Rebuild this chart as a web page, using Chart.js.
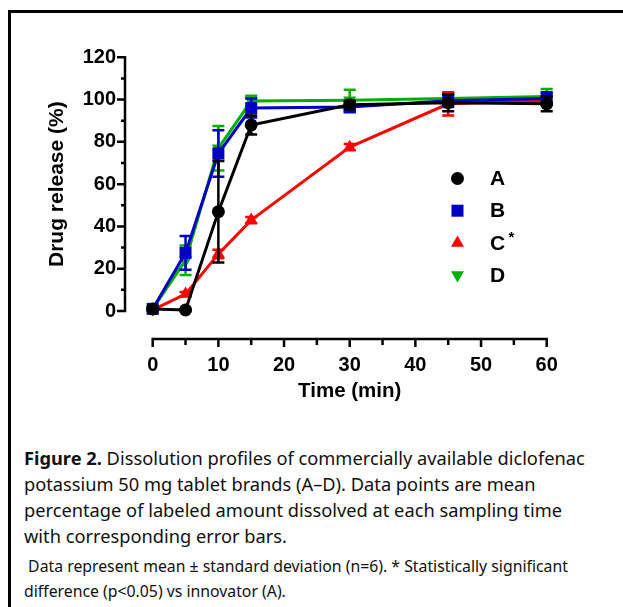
<!DOCTYPE html>
<html>
<head>
<meta charset="utf-8">
<script src="https://cdn.jsdelivr.net/npm/chart.js@4.4.1/dist/chart.umd.min.js"></script>
<style>
    html, body { margin: 0; padding: 0; background: #fff; width: 623px; height: 607px; overflow: hidden; }
    #frame { position: absolute; left: 8px; top: 10px; width: 640px; height: 620px; border-top: 3px solid #000; border-left: 3px solid #000; }
    #wrap { position: absolute; left: 0; top: 0; width: 623px; height: 430px; }
    .caption { position: absolute; left: 24px; top: 445px; font-family: 'Noto Sans', sans-serif; font-size: 18.25px; line-height: 26px; color: #111; white-space: nowrap; }
    .note { position: absolute; left: 24px; top: 554px; font-family: 'Noto Sans', sans-serif; font-size: 15.8px; line-height: 25px; color: #111; white-space: nowrap; }
</style>
</head>
<body>
<div id="frame"></div>
<div id="wrap"><canvas id="chart" width="623" height="430"></canvas></div>
<div class="caption">
    <b>Figure 2.</b> Dissolution profiles of commercially available diclofenac<br>
    potassium 50 mg tablet brands (A–D). Data points are mean<br>
    percentage of labeled amount dissolved at each sampling time<br>
    with corresponding error bars.
</div>
<div class="note">
    &nbsp;Data represent mean ± standard deviation (n=6). * Statistically significant<br>
    difference (p&lt;0.05) vs innovator (A).
</div>
<script>
// sampling times (min)
const TIMES = [0, 5, 10, 15, 30, 45, 60];

// mean % released and SD per brand
const A_MEAN = [1, 0.5, 47, 88, 97.5, 98.5, 98];
const A_SD = [0.5, 0.5, 24, 4.5, 2, 4, 3.5];
const B_MEAN = [1, 27.5, 74.5, 96, 96.5, 99.5, 100.5];
const B_SD = [0.5, 8, 11, 4.5, 2.5, 3, 3];
const C_MEAN = [0.5, 8, 27, 43, 77.5, 98, 99.5];
const C_SD = [0.5, 1, 2, 1.5, 1.5, 5.5, 2];
const D_MEAN = [1, 24, 77, 99.3, 99.7, 100.5, 101.5];
const D_SD = [0.5, 7, 10.5, 2.5, 5, 2.5, 3.5];

const X_TICKS = [0, 5, 10, 15, 20, 25, 30, 35, 40, 45, 50, 55, 60];
const Y_TICKS = [0, 10, 20, 30, 40, 50, 60, 70, 80, 90, 100, 110, 120];

const FONT = "'Liberation Sans', Arial, sans-serif";

const SERIES = [
    { label: 'A', mean: A_MEAN, sd: A_SD, color: '#000000', style: 'circle', radius: 6.5, rotation: 0 },
    { label: 'B', mean: B_MEAN, sd: B_SD, color: '#0000c4', style: 'rect', radius: 8.5, rotation: 0 },
    { label: 'C', mean: C_MEAN, sd: C_SD, color: '#ff0000', style: 'triangle', radius: 7.5, rotation: 0 },
    { label: 'D', mean: D_MEAN, sd: D_SD, color: '#00b000', style: 'triangle', radius: 7.5, rotation: 180 }
];

function drawMarker(ctx, s, x, y) {
    ctx.save();
    ctx.fillStyle = s.color;
    ctx.beginPath();
    if (s.style === 'circle') {
        ctx.arc(x, y, s.radius, 0, Math.PI * 2);
    } else if (s.style === 'rect') {
        const h = s.radius * Math.SQRT1_2;
        ctx.rect(x - h, y - h, 2 * h, 2 * h);
    } else {
        const dir = s.rotation === 180 ? -1 : 1;
        const r = s.radius;
        ctx.moveTo(x, y - dir * r);
        ctx.lineTo(x - r * 0.866, y + dir * r / 2);
        ctx.lineTo(x + r * 0.866, y + dir * r / 2);
        ctx.closePath();
    }
    ctx.fill();
    ctx.restore();
}

const prismPlugin = {
    id: 'prism',
    beforeDatasetDraw(chart, args) {
        const s = SERIES[args.index];
        const { ctx, scales: { x, y } } = chart;
        ctx.save();
        ctx.strokeStyle = s.color;
        ctx.lineWidth = 2.5;
        TIMES.forEach((t, i) => {
            const px = x.getPixelForValue(t);
            const top = y.getPixelForValue(s.mean[i] + s.sd[i]);
            const bot = y.getPixelForValue(s.mean[i] - s.sd[i]);
            ctx.beginPath();
            ctx.moveTo(px, top); ctx.lineTo(px, bot);
            ctx.moveTo(px - 6, top); ctx.lineTo(px + 6, top);
            ctx.moveTo(px - 6, bot); ctx.lineTo(px + 6, bot);
            ctx.stroke();
        });
        ctx.restore();
    },
    afterDraw(chart) {
        const { ctx, chartArea, scales: { x, y } } = chart;
        const left = chartArea.left, bottom = chartArea.bottom;
        ctx.save();
        ctx.strokeStyle = '#000';
        ctx.lineWidth = 2.5;
        ctx.lineCap = 'butt';

        // y axis
        ctx.beginPath();
        ctx.moveTo(left, y.getPixelForValue(0) + 1.25);
        ctx.lineTo(left, y.getPixelForValue(120) - 1.25);
        Y_TICKS.forEach(v => {
            const py = y.getPixelForValue(v);
            ctx.moveTo(left, py);
            ctx.lineTo(left - (v % 20 === 0 ? 8 : 4), py);
        });
        // x axis
        ctx.moveTo(x.getPixelForValue(0) - 1.25, bottom);
        ctx.lineTo(x.getPixelForValue(60) + 1.25, bottom);
        X_TICKS.forEach(v => {
            const px = x.getPixelForValue(v);
            ctx.moveTo(px, bottom);
            ctx.lineTo(px, bottom + (v % 10 === 0 ? 8 : 6));
        });
        ctx.stroke();

        // axis titles
        ctx.fillStyle = '#000';
        ctx.textAlign = 'center';
        ctx.textBaseline = 'middle';
        ctx.font = 'bold 20.5px ' + FONT;
        ctx.fillText('Time (min)', (x.getPixelForValue(0) + x.getPixelForValue(60)) / 2, 391);
        ctx.save();
        ctx.translate(57, (y.getPixelForValue(0) + y.getPixelForValue(120)) / 2);
        ctx.rotate(-Math.PI / 2);
        ctx.font = 'bold 21px ' + FONT;
        ctx.fillText('Drug release (%)', 0, 0);
        ctx.restore();

        // legend
        ctx.font = 'bold 21px ' + FONT;
        ctx.textAlign = 'left';
        SERIES.forEach((s, i) => {
            const ly = 178.5 + i * 32.2;
            drawMarker(ctx, s, 457.5, ly);
            ctx.fillStyle = '#000';
            ctx.fillText(s.label, 490, ly + 1);
            if (s.label === 'C') {
                ctx.font = 'bold 15px ' + FONT;
                ctx.fillText('*', 508.5, ly - 5);
                ctx.font = 'bold 21px ' + FONT;
            }
        });
        ctx.restore();
    }
};

const datasets = SERIES.map(s => ({
    label: s.label,
    data: TIMES.map((t, i) => ({ x: t, y: s.mean[i] })),
    borderColor: s.color,
    backgroundColor: s.color,
    borderWidth: 3,
    pointStyle: s.style,
    pointRadius: s.radius,
    pointRotation: s.rotation,
    pointBorderWidth: 0,
    tension: 0,
    clip: false
}));

const AXIS_FONT = { family: FONT, size: 20, weight: 'bold' };

new Chart(document.getElementById('chart'), {
    type: 'line',
    data: { datasets },
    plugins: [prismPlugin],
    options: {
        responsive: false,
        animation: false,
        devicePixelRatio: 1,
        layout: { padding: { left: 0, right: 76.3, top: 57.3, bottom: 0 } },
        plugins: { legend: { display: false }, tooltip: { enabled: false } },
        scales: {
            x: {
                type: 'linear',
                min: -4.22,
                max: 60,
                afterBuildTicks: scale => { scale.ticks = X_TICKS.map(v => ({ value: v })); },
                afterFit: scale => { scale.height = 91; },
                grid: { display: false, drawTicks: false },
                border: { display: false },
                ticks: { color: '#000', font: AXIS_FONT, padding: 14, maxRotation: 0, autoSkip: false,
                    callback: v => (v % 10 === 0 ? v : '') }
            },
            y: {
                type: 'linear',
                min: -13.24,
                max: 120,
                afterBuildTicks: scale => { scale.ticks = Y_TICKS.map(v => ({ value: v })); },
                afterFit: scale => { scale.width = 125; },
                grid: { display: false, drawTicks: false },
                border: { display: false },
                ticks: { color: '#000', font: AXIS_FONT, padding: 9, autoSkip: false,
                    callback: v => (v % 20 === 0 ? v : '') }
            }
        }
    }
});
</script>
</body>
</html>
